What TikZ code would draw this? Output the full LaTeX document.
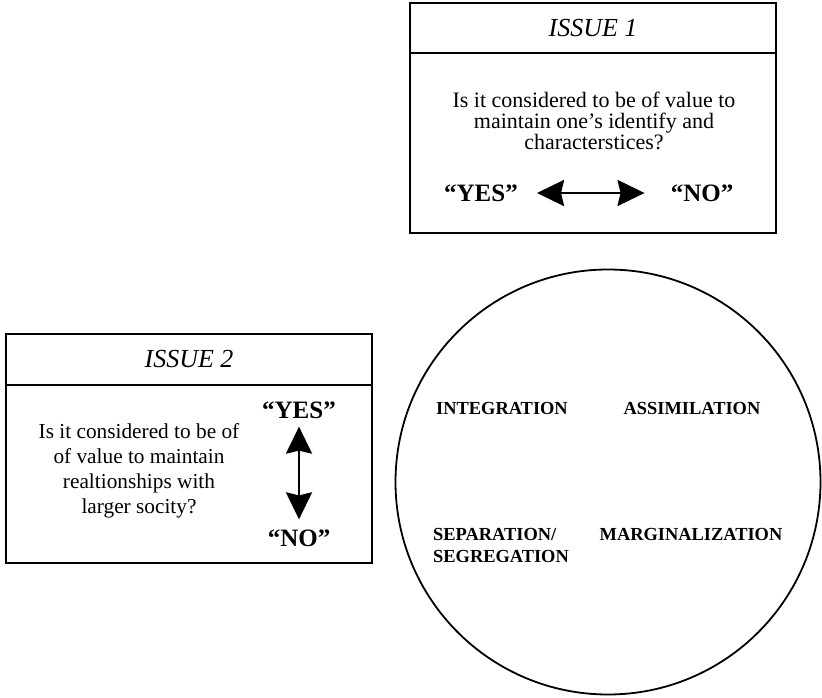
\documentclass[tikz,border=0pt]{standalone}
\usepackage{fontspec}
\setmainfont{Liberation Serif}
\usetikzlibrary{arrows.meta}

\begin{document}
\begin{tikzpicture}[x=1pt, y=-1pt,
        box/.style={shape=rectangle, draw=black, line width=2.5pt, minimum width=366pt},
        head/.style={box, minimum height=50pt, font=\fontsize{26}{28}\selectfont\itshape},
        ask/.style={align=center, inner sep=0pt},
        answer/.style={inner sep=0pt, font=\fontsize{25}{27}\selectfont\bfseries},
        mode/.style={inner sep=0pt, font=\fontsize{18.4}{22}\selectfont\bfseries},
        both/.style={{Stealth[length=27pt, width=26pt, inset=3pt]}-{Stealth[length=27pt, width=26pt, inset=3pt]}, line width=2.5pt}]
                \useasboundingbox (0, 0) rectangle (822, 698);
                % issue 1
                \node[head] (H1) at (593, 28) {ISSUE 1};
                \node[box, minimum height=180pt] (B1) at (593, 143) {};
                \node[ask, font=\fontsize{22}{21}\selectfont] (Q1) at (594, 121) {Is it considered to be of value to\\maintain one’s identify and\\characterstices?};
                \node[answer] (Y1) at (481, 193) {“YES”};
                \node[answer] (N1) at (702, 193) {“NO”};
                \path[both, shorten <=19pt, shorten >=26pt] (Y1) edge node[] {} (N1);
                % issue 2
                \node[head, minimum height=51pt] (H2) at (189, 359.5) {ISSUE 2};
                \node[box, minimum height=178pt] (B2) at (189, 474) {};
                \node[ask, font=\fontsize{21.3}{25}\selectfont] (Q2) at (139, 471) {Is it considered to be of\\of value to maintain\\realtionships with\\larger socity?};
                \node[answer] (Y2) at (299, 410) {“YES”};
                \node[answer] (N2) at (299, 538) {“NO”};
                \path[both, shorten <=8pt, shorten >=10pt] (Y2) edge node[] {} (N2);
                % strategies
                \node[shape=circle, draw=black, line width=1.8pt, minimum size=425pt] (C) at (608, 482) {};
                \node[mode] (I) at (502, 408) {INTEGRATION};
                \node[mode] (A) at (692, 408) {ASSIMILATION};
                \node[mode, align=left, anchor=west] (S) at (433, 545) {SEPARATION/\\SEGREGATION};
                \node[mode] (M) at (691, 534) {MARGINALIZATION};
\end{tikzpicture}
\end{document}
